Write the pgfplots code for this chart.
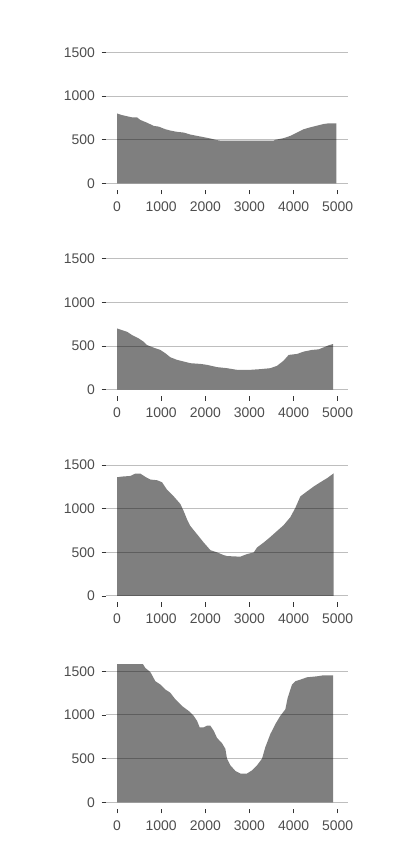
\documentclass[border=0pt]{standalone}
\usepackage{fontspec}
\setmainfont{Liberation Sans}
\usepackage{pgfplots}
\pgfplotsset{compat=1.18}
\definecolor{gridc}{RGB}{190,190,190}
\definecolor{txtc}{RGB}{77,77,77}
\definecolor{tickc}{RGB}{51,51,51}
\pgfplotsset{panel/.style={
  scale only axis, width=242.3bp, height=144bp,
  xmin=-250, xmax=5240, ymin=-75, ymax=1575,
  xtick={0,1000,...,5000}, ytick={0,500,1000,1500},
  axis line style={draw=none},
  tick align=outside, tick pos=left,
  major tick length=4.5bp,
  every tick/.style={tickc, line width=0.8bp},
  ymajorgrids, grid style={gridc, line width=1bp},
  tick label style={font=\fontsize{14}{16}\selectfont, text=txtc},
  /pgf/number format/assume math mode=true,
  /pgf/number format/1000 sep={},
  xticklabel style={anchor=north, inner sep=0pt, yshift=-7bp},
  yticklabel style={anchor=east, inner sep=0pt, xshift=-6.5bp},
  anchor=south west,
}}
\begin{document}
\begin{tikzpicture}
\path[use as bounding box] (0,0) rectangle (396bp,848bp);
% panel 1
\begin{axis}[panel, at={(106bp,658.1bp)}]
\addplot[fill=black, fill opacity=0.5, draw=none] coordinates {
(0,801) (113,782) (340,756) (453,756) (529,726) (680,695) (831,658) (944,650) (1095,620) (1208,605) (1360,590) (1511,582) (1662,559) (1813,544) (1964,529) (2115,514) (2266,495) (2340,490) (3550,490) (3588,499) (3776,518) (3927,544) (4078,582) (4229,620) (4380,642) (4531,661) (4683,680) (4796,688) (4970,688)
} \closedcycle;
\end{axis}
% panel 2
\begin{axis}[panel, at={(106bp,451.8bp)}]
\addplot[fill=black, fill opacity=0.5, draw=none] coordinates {
(0,701) (113,682) (227,663) (340,625) (491,587) (604,549) (680,511) (831,481) (982,455) (1095,417) (1208,371) (1360,341) (1511,322) (1662,303) (1888,295) (2039,284) (2266,258) (2492,246) (2719,227) (3021,227) (3248,235) (3474,246) (3625,273) (3776,333) (3889,398) (4078,409) (4229,436) (4418,455) (4569,462) (4683,485) (4796,508) (4894,523)
} \closedcycle;
\end{axis}
% panel 3
\begin{axis}[panel, at={(106bp,245.5bp)}]
\addplot[fill=black, fill opacity=0.5, draw=none] coordinates {
(0,1360) (113,1368) (302,1375) (415,1402) (529,1402) (642,1364) (755,1334) (906,1326) (1020,1303) (1133,1217) (1284,1141) (1435,1054) (1511,971) (1586,877) (1662,801) (1813,707) (1964,612) (2115,525) (2266,499) (2417,468) (2492,457) (2794,450) (2945,480) (3097,499) (3172,555) (3323,612) (3474,676) (3625,744) (3776,812) (3927,903) (4040,1009) (4154,1141) (4305,1198) (4456,1254) (4607,1303) (4758,1349) (4909,1405)
} \closedcycle;
\end{axis}
% panel 4
\begin{axis}[panel, at={(106bp,39.2bp)}]
\addplot[fill=black, fill opacity=0.5, draw=none] coordinates {
(0,1600) (566,1600) (642,1538) (755,1492) (868,1387) (982,1349) (1095,1292) (1208,1254) (1322,1179) (1473,1103) (1624,1046) (1737,990) (1813,933) (1873,858) (1964,858) (2039,877) (2115,877) (2190,820) (2266,737) (2379,676) (2455,612) (2492,499) (2568,423) (2681,359) (2794,329) (2945,329) (3059,366) (3172,423) (3285,499) (3360,631) (3474,782) (3587,895) (3700,990) (3814,1065) (3867,1198) (3965,1349) (4040,1387) (4154,1405) (4305,1432) (4531,1443) (4683,1455) (4894,1455)
} \closedcycle;
\end{axis}
\end{tikzpicture}
\end{document}
